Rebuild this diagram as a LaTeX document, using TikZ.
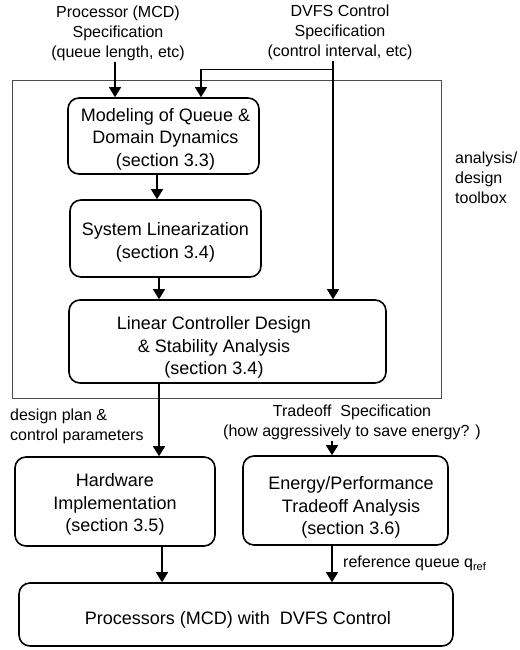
\documentclass[tikz,border=0pt]{standalone}
\usepackage{fontspec}
\setmainfont{Liberation Sans}
\usetikzlibrary{arrows.meta,calc}
\begin{document}
\begin{tikzpicture}[x=1pt,y=-1pt,
 box/.style={draw,line width=1.6pt,rounded corners=11pt,inner sep=0pt},
 boxtext/.style={align=center,font=\fontsize{18}{22.5}\selectfont,inner sep=0pt},
 lbl/.style={align=center,font=\fontsize{16}{20}\selectfont,inner sep=1pt},
 arr/.style={line width=1.3pt,-{Triangle[length=10pt,width=12pt]}}]
\useasboundingbox (0,0) rectangle (519,650);
\node[draw,line width=0.8pt,black!70,minimum width=429pt,minimum height=318pt,inner sep=0pt] (frame) at (226.5,239) {};
% boxes
\node[box,minimum width=191pt,minimum height=76pt,
  label={[boxtext,xshift=2pt,yshift=-3pt]center:{Modeling of Queue \&\\Domain Dynamics\\(section 3.3)}}] (mod) at (163.5,136) {};
\node[box,minimum width=191pt,minimum height=77pt,
  label={[boxtext,yshift=-4pt]center:{System Linearization\\(section 3.4)}}] (lin) at (165.5,238.5) {};
\node[box,minimum width=317pt,minimum height=83pt,
  label={[boxtext,xshift=-13.5pt,yshift=-6pt]center:{Linear Controller Design\\\& Stability Analysis\\(section 3.4)}}] (ctrl) at (227.5,341.5) {};
\node[box,minimum width=200pt,minimum height=89pt,
  label={[boxtext,yshift=-3pt]center:{Hardware\\Implementation\\(section 3.5)}}] (hw) at (115,501.5) {};
\node[box,minimum width=205pt,minimum height=89pt,
  label={[boxtext,xshift=5.5pt,yshift=-7pt]center:{Energy/Performance\\Tradeoff Analysis\\(section 3.6)}}] (en) at (345.5,500.5) {};
\node[box,minimum width=434pt,minimum height=63pt,
  label={[boxtext,xshift=2pt,yshift=-5pt]center:{Processors (MCD) with\ \ DVFS Control}}] (proc) at (236,614.5) {};
% labels
\node[lbl] (pspec) at (118,33) {Processor (MCD)\\Specification\\(queue length, etc)};
\node[lbl] (dspec) at (340,32) {DVFS Control\\Specification\\(control interval, etc)};
\node[lbl,anchor=west,align=left] (tb) at (454,177.5) {analysis/\\design\\toolbox};
\node[lbl,anchor=west,align=left] (dp) at (9,426) {design plan \&\\control parameters};
\node[lbl] (tspec) at (352,422) {Tradeoff\ \ Specification\\(how aggressively to save energy? )};
\node[lbl,anchor=west] (rq) at (342,563) {reference queue q\raisebox{-3pt}{\fontsize{11}{11}\selectfont ref}};
% connectors
\coordinate (ps) at ($(pspec.south)+(-3,0)$);
\draw[arr] (ps) -- (ps |- mod.north);
\coordinate (ds) at ($(dspec.south)+(-7,0)$);
\draw[arr] (ds) -- (ds |- ctrl.north);
\coordinate (br) at ($(ds)+(0,9)$);
\coordinate (mt) at ($(mod.north)+(37.5,0)$);
\draw[arr] (br) -| (mt);
\coordinate (ms) at ($(mod.south)+(-6.5,0)$);
\draw[arr] (ms) -- (ms |- lin.north);
\coordinate (ls) at ($(lin.south)+(-6.5,0)$);
\draw[arr] (ls) -- (ls |- ctrl.north);
\coordinate (cs) at (ctrl.south -| ls);
\draw[arr] (cs) -- (cs |- hw.north);
\coordinate (ts) at ($(tspec.south)+(-20,0)$);
\draw[arr] (ts) -- (ts |- en.north);
\coordinate (hs) at ($(hw.south)+(47,0)$);
\draw[arr] (hs) -- (hs |- proc.north);
\coordinate (es) at (en.south -| ts);
\draw[arr] (es) -- (es |- proc.north);
\end{tikzpicture}
\end{document}
